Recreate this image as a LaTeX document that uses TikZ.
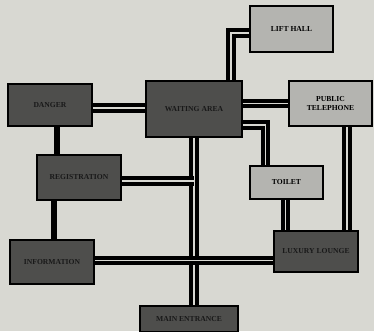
\documentclass[tikz,border=0pt]{standalone}
\usepackage{fontspec}
\setmainfont{Liberation Serif}
\usetikzlibrary{calc}
\definecolor{paper}{HTML}{D8D8D2}
\definecolor{darkbox}{HTML}{4E4E4C}
\definecolor{lightbox}{HTML}{B4B4B0}
\tikzset{
  room/.style={draw=black, line width=1.6pt, inner sep=0pt, align=center,
    font=\fontsize{6.5}{7}\selectfont\bfseries},
  dark/.style={room, fill=darkbox, text=black!90},
  light/.style={room, fill=lightbox},
  path2/.style={line width=3.1pt, double=paper, double distance=1.6pt},
  path1/.style={line width=5.5pt}
}
\begin{document}
\begin{tikzpicture}[x=0.03cm, y=-0.03cm]
  \path[use as bounding box, fill=paper] (0,0) rectangle (374,331);

  % Rooms
  \node[dark, minimum width=2.52cm, minimum height=1.26cm] (danger) at (50,105) {DANGER};
  \node[dark, minimum width=2.88cm, minimum height=1.68cm] (waiting) at (194,109) {WAITING AREA};
  \node[light, minimum width=2.49cm, minimum height=1.38cm] (lift) at (291.5,29) {LIFT HALL};
  \node[light, minimum width=2.49cm, minimum height=1.35cm] (phone) at (330.5,103.5) {PUBLIC\\[1pt]TELEPHONE};
  \node[dark, minimum width=2.52cm, minimum height=1.35cm] (regis) at (79,177.5) {REGISTRATION};
  \node[light, minimum width=2.19cm, minimum height=0.99cm] (toilet) at (286.5,182.5) {TOILET};
  \node[dark, minimum width=2.52cm, minimum height=1.32cm] (info) at (52,262) {INFORMATION};
  \node[dark, minimum width=2.52cm, minimum height=1.23cm] (lounge) at (316,251.5) {LUXURY LOUNGE};
  \node[dark, minimum width=2.94cm, minimum height=0.78cm] (entrance) at (189,319) {MAIN ENTRANCE};

  % Link end points
  \coordinate (dangerS) at ($(danger.south)+(7,0)$);
  \coordinate (infoN)   at ($(info.north)+(2,0)$);
  \coordinate (dangerE) at ($(danger.east)+(0,3)$);
  \coordinate (regisE)  at ($(regis.east)+(0,3.5)$);
  \coordinate (infoE)   at ($(info.east)+(0,-1.5)$);
  \coordinate (waitN)   at ($(waiting.north)+(37,0)$);
  \coordinate (liftW)   at ($(lift.west)+(0,4)$);
  \coordinate (waitE)   at ($(waiting.east)+(0,16)$);
  \coordinate (toiletN) at ($(toilet.north)+(-21,0)$);
  \coordinate (toiletS) at ($(toilet.south)+(-1,0)$);
  \coordinate (phoneS)  at ($(phone.south)+(16.5,0)$);

  % Single links on the left
  \draw[path1] (dangerS) -- (dangerS |- regis.north);
  \draw[path1] (infoN) -- (infoN |- regis.south);

  % Double links
  \draw[path2] (dangerE) -- (dangerE -| waiting.west);
  \draw[path2] (waiting.south) -- (waiting.south |- entrance.north);
  \draw[path2] (regisE) -- (regisE -| waiting.south);
  \draw[path2] (infoE) -- (infoE -| lounge.west);
  \draw[path2] (waitN) |- (liftW);
  \draw[path2] (waiting.east |- phone.west) -- (phone.west);
  \draw[path2] (waitE) -| (toiletN);
  \draw[path2] (toiletS) -- (toiletS |- lounge.north);
  \draw[path2] (phoneS) -- (phoneS |- lounge.north);
\end{tikzpicture}
\end{document}
